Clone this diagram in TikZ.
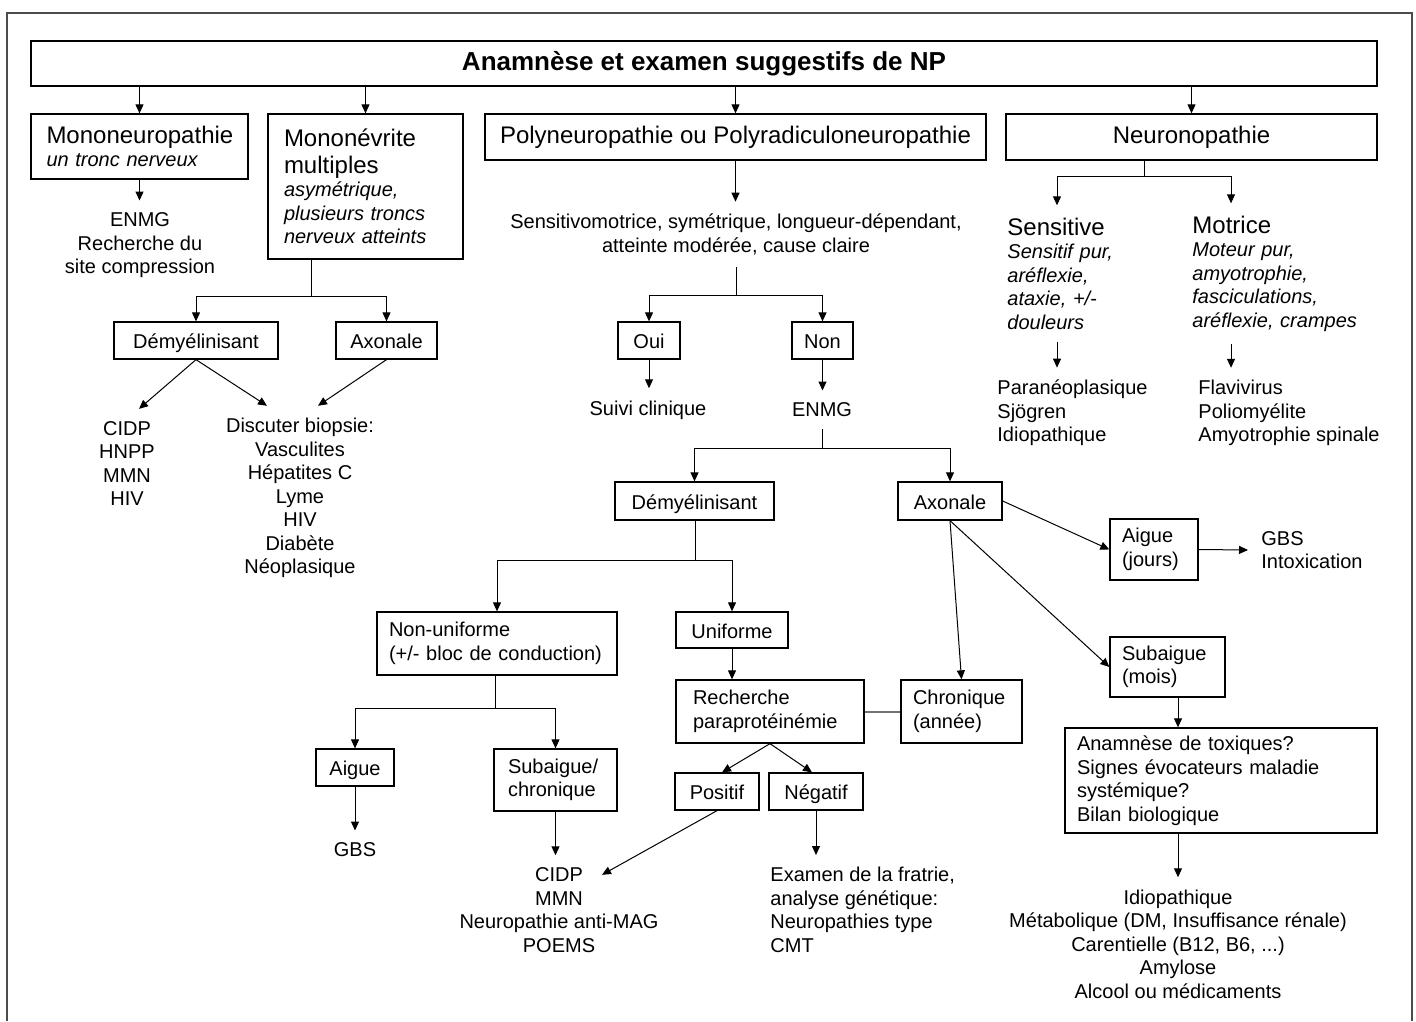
\documentclass[tikz,border=0pt]{standalone}
\usepackage{fontspec}
\setmainfont{Liberation Sans}
\usepackage{tikz}
\usetikzlibrary{arrows.meta}
\usetikzlibrary{calc}
\newcommand{\normaltxt}{\fontsize{10}{11.75}\selectfont}
\newcommand{\bigtxt}{\fontsize{12}{13.5}\selectfont}
\tikzset{
    flowchart/.style={
            x=0.5pt,y=-0.5pt,
            font=\normaltxt,
            arrow/.style={-{Stealth[length=4.5pt,width=4pt,inset=0pt]},line width=0.5pt},
            stem/.style={line width=0.5pt},
            link/.style={line width=1pt,black!55},
            outerframe/.style={line width=1.1pt,black!70},
            box/.style={draw,line width=0.65pt,inner sep=0pt},
            single/.style={box,text height=8.2pt,text depth=0pt},
            boxleft/.style={draw,line width=0.65pt,inner ysep=0pt,align=left},
            txt/.style={inner xsep=0pt,inner ysep=6pt,align=center},
            txtleft/.style={inner xsep=0pt,inner ysep=6pt,align=left,anchor=west}
        }
    }

\begin{document}
\begin{tikzpicture}[flowchart]
        \useasboundingbox (0,0) rectangle (1416,1021);
        \draw [outerframe] (7,1021) -- (7,13) -- (1412,13) -- (1412,1021);

        \node (title) [box, minimum width=673pt, minimum height=22.5pt, font=\fontsize{13}{15}\selectfont\bfseries] at (704,63.5) {Anamnèse et examen suggestifs de NP};

        \node (mono) [boxleft, text width=93pt, inner xsep=7.75pt, minimum height=32.5pt] at (139.5,146.5) {{\bigtxt Mononeuropathie\par}\textit{un tronc nerveux}};
        \node (monev) [boxleft, text width=81.5pt, inner xsep=8pt, minimum height=72.5pt] at (365.5,186.5) {{\bigtxt Mononévrite\\multiples\par}\textit{asymétrique,\\plusieurs troncs\\nerveux atteints}};
        \node (poly) [box, minimum width=250.5pt, minimum height=23pt, font=\bigtxt] at (735.5,137) {Polyneuropathie ou Polyradiculoneuropathie};
        \node (neuro) [box, minimum width=185.5pt, minimum height=23pt, font=\bigtxt] at (1191.5,137) {Neuronopathie};

        \node (enmg1) [txt] at (140,245.5) {ENMG\\Recherche du\\site compression};
        \node (sensmot) [txt] at (736,234.5) {Sensitivomotrice, symétrique, longueur-dépendant,\\atteinte modérée, cause claire};
        \node (sens) [txtleft, text width=80pt] at (1007,273.5) {{\bigtxt Sensitive\par}\textit{Sensitif pur,\\aréflexie,\\ataxie, +/-\\douleurs}};
        \node (motr) [txtleft, text width=100pt] at (1192,273.5) {{\bigtxt Motrice\par}\textit{Moteur pur,\\amyotrophie,\\fasciculations,\\aréflexie, crampes}};

        \node (demyel1) [single, minimum width=82pt, minimum height=18.5pt] at (196,340.5) {Démyélinisant};
        \node (axon1) [single, minimum width=50.5pt, minimum height=18.5pt] at (386.5,340.5) {Axonale};
        \node (oui) [single, minimum width=31pt, minimum height=18.5pt] at (649,340.5) {Oui};
        \node (non) [single, minimum width=30.5pt, minimum height=18.5pt] at (822.5,340.5) {Non};

        \node (cidp1) [txt] at (127,463.5) {CIDP\\HNPP\\MMN\\HIV};
        \node (biopsie) [txt] at (300,498) {Discuter biopsie:\\Vasculites\\Hépatites C\\Lyme\\HIV\\Diabète\\Néoplasique};
        \node (paraneo) [txtleft] at (997,413) {Paranéoplasique\\Sjögren\\Idiopathique};
        \node (flavi) [txtleft] at (1198,413) {Flavivirus\\Poliomyélite\\Amyotrophie spinale};
        \node (suivi) [txt] at (648,410) {Suivi clinique};
        \node (enmg2) [txt] at (822,410) {ENMG};

        \node (demyel2) [single, minimum width=79.5pt, minimum height=19pt] at (694.5,501) {Démyélinisant};
        \node (axon2) [single, minimum width=52pt, minimum height=19pt] at (950,501) {Axonale};
        \node (aigue1) [boxleft, text width=32pt, inner xsep=6pt, minimum height=30.5pt] at (1154,549.5) {Aigue\\(jours)};
        \node (gbs1) [txtleft] at (1261,550) {GBS\\Intoxication};

        \node (nonunif) [boxleft, text width=108pt, inner xsep=6pt, minimum height=31.5pt] at (497,643.5) {Non-uniforme\\(+/- bloc de conduction)};
        \node (unif) [single, minimum width=56pt, minimum height=18pt] at (732,630) {Uniforme};
        \node (subaig1) [boxleft, text width=45.5pt, inner xsep=6pt, minimum height=30pt] at (1167.5,667) {Subaigue\\(mois)};
        \node (recher) [boxleft, text width=77pt, inner xsep=8.5pt, minimum height=31.5pt] at (770,711.5) {Recherche\\paraprotéinémie};
        \node (chron) [boxleft, text width=48.5pt, inner xsep=6pt, minimum height=31.5pt] at (961.5,711.5) {Chronique\\(année)};
        \node (anamn) [boxleft, text width=144pt, inner xsep=6pt, minimum height=52.5pt] at (1221,780.5) {Anamnèse de toxiques?\\Signes évocateurs maladie\\systémique?\\Bilan biologique};

        \node (aigue2) [single, minimum width=39pt, minimum height=18.5pt] at (355,767.5) {Aigue};
        \node (subchron) [boxleft, text width=47.5pt, inner xsep=7pt, minimum height=31pt] at (555.5,780) {Subaigue/\\chronique};
        \node (positif) [single, minimum width=42pt, minimum height=18.5pt] at (717,791.5) {Positif};
        \node (negatif) [single, minimum width=47pt, minimum height=18.5pt] at (816,791.5) {Négatif};

        \node (gbs2) [txt] at (355,850) {GBS};
        \node (cidp2) [txt] at (559,910) {CIDP\\MMN\\Neuropathie anti-MAG\\POEMS};
        \node (examen) [txtleft] at (770,910) {Examen de la fratrie,\\analyse génétique:\\Neuropathies type\\CMT};
        \node (final) [txt] at (1178,944) {Idiopathique\\Métabolique (DM, Insuffisance rénale)\\Carentielle (B12, B6, ...)\\Amylose\\Alcool ou médicaments};

        \coordinate (fork1) at (311,297);
        \coordinate (fork2) at (736,296);
        \coordinate (fork3) at (822,448);
        \coordinate (fork4) at (1144,177);
        \coordinate (fork5) at (695,560);
        \coordinate (fork6) at (495,708);

        \draw [arrow] (mono.north |- title.south) -- (mono.north);
        \draw [arrow] (monev.north |- title.south) -- (monev.north);
        \draw [arrow] (poly.north |- title.south) -- (poly.north);
        \draw [arrow] (neuro.north |- title.south) -- (neuro.north);

        \draw [arrow] (mono.south) -- (mono.south |- enmg1.north);
        \draw [stem] (fork1 |- monev.south) -- (fork1);
        \draw [arrow] (fork1) -| (demyel1);
        \draw [arrow] (fork1) -| (axon1);
        \draw [arrow] (demyel1.south) -- ([xshift=6pt]cidp1.north);
        \draw [arrow] (demyel1.south) -- ([xshift=-16.5pt]biopsie.north);
        \draw [arrow] (axon1.south) -- ([xshift=9pt]biopsie.north);

        \draw [arrow] (poly.south) -- (poly.south |- sensmot.north);
        \draw [stem] (sensmot.south) -- (fork2);
        \draw [arrow] (fork2) -| (oui);
        \draw [arrow] (fork2) -| (non);
        \draw [arrow] (oui.south) -- (oui.south |- suivi.north);
        \draw [arrow] (non.south) -- (non.south |- enmg2.north);
        \draw [stem] (enmg2.south) -- (fork3);
        \draw [arrow] (fork3) -| (demyel2);
        \draw [arrow] (fork3) -| (axon2);

        \draw [stem] (fork4 |- neuro.south) -- (fork4);
        \draw [arrow] (fork4) -| ([xshift=25pt]sens.north west);
        \draw [arrow] (fork4) -| ([xshift=19.5pt]motr.north west);
        \draw [arrow] ([xshift=25pt]sens.south west) -- ([xshift=25pt]sens.south west |- paraneo.north);
        \draw [arrow] ([xshift=19.5pt]motr.south west) -- ([xshift=19.5pt]motr.south west |- flavi.north);

        \draw [stem] (fork5 |- demyel2.south) -- (fork5);
        \draw [arrow] (fork5) -| (nonunif);
        \draw [arrow] (fork5) -| (unif);
        \draw [arrow] (axon2.east) -- (aigue1.west);
        \draw [arrow] (aigue1.east) -- ([xshift=-6.5pt]gbs1.west);
        \draw [arrow] (axon2.south) -- (chron.north);
        \draw [arrow] (axon2.south) -- (subaig1.west);
        \draw [arrow] (unif.south) -- (unif.south |- recher.north);
        \draw [link] (recher.east) -- (chron.west);
        \draw [arrow] (final.north |- subaig1.south) -- (final.north |- anamn.north);
        \draw [arrow] (final.north |- anamn.south) -- (final.north);

        \draw [stem] (fork6 |- nonunif.south) -- (fork6);
        \draw [arrow] (fork6) -| (aigue2);
        \draw [arrow] (fork6) -| (subchron);
        \draw [arrow] (aigue2.south) -- (aigue2.south |- gbs2.north);
        \draw [arrow] (subchron.south) -- (subchron.south |- cidp2.north);
        \draw [arrow] (recher.south) -- ([xshift=2.5pt]positif.north);
        \draw [arrow] (recher.south) -- ([xshift=-2pt]negatif.north);
        \draw [arrow] (positif.south) -- ([xshift=21.5pt,yshift=-9.75pt]cidp2.north);
        \draw [arrow] (negatif.south) -- (negatif.south |- examen.north);
    \end{tikzpicture}
\end{document}
